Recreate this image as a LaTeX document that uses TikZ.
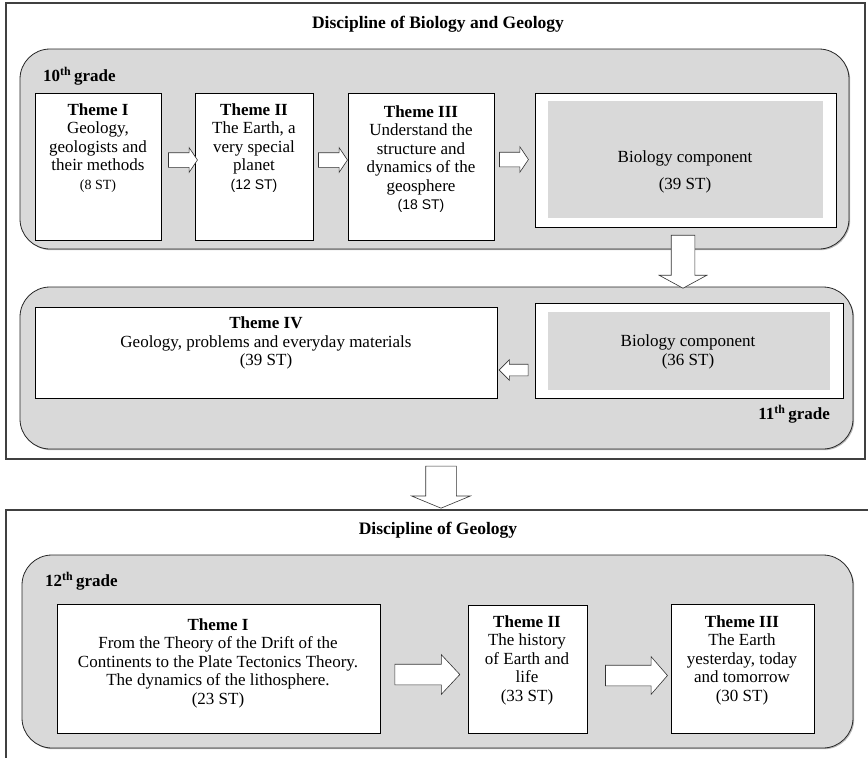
\documentclass[tikz,border=0pt]{standalone}
\usepackage{fontspec}
\setmainfont{Liberation Serif}
\setsansfont{Liberation Sans}
\usetikzlibrary{fit,calc,shapes.arrows,shadows}

\newcommand{\stsmall}{\fontsize{14}{16}\selectfont}
\newcommand{\gradelabel}[1]{\textbf{#1\textsuperscript{th}\,grade}}

\begin{document}
\begin{tikzpicture}[x=1pt, y=-1pt,
  discbox/.style={draw=black!75, line width=1.4pt, fill=white, inner sep=0pt},
  gradebox/.style={draw=black!85, line width=0.8pt, fill=black!15, rounded corners=30pt, inner sep=0pt,
    drop shadow={shadow xshift=1.2pt, shadow yshift=-1.2pt, fill=black!45, opacity=0.6}},
  themebox/.style={draw=black, line width=0.7pt, fill=white, inner sep=0pt},
  biobox/.style={fill=black!15, inner sep=0pt},
  themetext/.style={align=center, inner sep=0pt, font=\fontsize{17}{18.5}\selectfont},
  titletext/.style={font=\bfseries\fontsize{17.5}{20}\selectfont, inner sep=0pt},
  flowarrow/.style={single arrow, draw=black!80, line width=0.6pt, fill=white, inner xsep=0pt,
    single arrow head indent=0pt},
  downarrow/.style={flowarrow, inner ysep=0pt, shape border rotate=270}]

\path[use as bounding box, clip] (0,0) rectangle (868,758);

% discipline of biology and geology
\node[discbox, fit={(6,3) (865,459)}] (disc1) {};
\node[titletext] (title1) at (438,24) {Discipline of Biology and Geology};

\node[gradebox, fit={(20,49) (849,249)}] (g10) {};
\node[themetext, anchor=west] (g10lab) at (43,76) {\gradelabel{10}};

\node[themebox, fit={(35,93) (161,240)}] (t1) {};
\node[themebox, fit={(195,93) (313,240)}] (t2) {};
\node[themebox, fit={(348,93) (494,240)}] (t3) {};
\node[themebox, fit={(535,93) (836,227)}] (bio1) {};
\node[biobox, fit={(548,101) (823,218)}] (bio1in) {};

\node[themetext] (t1txt) at (98,148) {\textbf{Theme I}\\Geology,\\geologists and\\their methods\\{\stsmall (8 ST)}};
\node[themetext] (t2txt) at (254,148) {\textbf{Theme II}\\The Earth, a\\very special\\planet\\{\sffamily\stsmall (12 ST)}};
\node[themetext] (t3txt) at (421,159) {\textbf{Theme III}\\Understand the\\structure and\\dynamics of the\\geosphere\\{\sffamily\stsmall (18 ST)}};
\node[themetext] (bio1txt) at (685,172) {Biology component\\[9pt](39 ST)};

\node[flowarrow, minimum height=29pt, inner ysep=7pt, single arrow head extend=5pt, single arrow tip angle=112] (a1) at (180.5,160) {};
\node[flowarrow, minimum height=29pt, inner ysep=7pt, single arrow head extend=5pt, single arrow tip angle=112] (a2) at (330.5,160) {};
\node[flowarrow, minimum height=29pt, inner ysep=7pt, single arrow head extend=5.5pt, single arrow tip angle=112] (a3) at (511.5,159.5) {};

\node[gradebox, fit={(20,287) (853,449)}] (g11) {};
\node[downarrow, minimum height=53pt, inner xsep=11.5pt, single arrow head extend=12pt, single arrow tip angle=123] (a4) at (683,258.5) {};

\node[themebox, fit={(35,307) (497,398)}] (t4) {};
\node[themebox, fit={(535,303) (843,398)}] (bio2) {};
\node[biobox, fit={(548,312) (830,390)}] (bio2in) {};

\node[themetext] (t4txt) at (266,343) {\textbf{Theme IV}\\Geology, problems and everyday materials\\(39 ST)};
\node[themetext] (bio2txt) at (688,352) {Biology component\\(36 ST)};
\node[themetext, anchor=east] (g11lab) at (830,414) {\gradelabel{11}};

\node[flowarrow, minimum height=29pt, inner ysep=5.5pt, single arrow head extend=4.5pt, single arrow tip angle=90, shape border rotate=180] (a5) at (516.5,370) {};

% between the disciplines
\node[downarrow, minimum height=42pt, inner xsep=15pt, single arrow head extend=14pt, single arrow tip angle=135] (a6) at (441,484) {};

% discipline of geology
\node[discbox, fit={(6,510) (880,780)}] (disc2) {};
\node[titletext] (title2) at (438,530) {Discipline of Geology};

\node[gradebox, fit={(22,555) (853,748)}] (g12) {};
\node[themetext, anchor=west] (g12lab) at (45,581) {\gradelabel{12}};

\node[themebox, fit={(57,604) (380,733)}] (u1) {};
\node[themebox, fit={(468,605) (587,733)}] (u2) {};
\node[themebox, fit={(671,604) (814,733)}] (u3) {};

\node[themetext] (u1txt) at (218,663) {\textbf{Theme I}\\From the Theory of the Drift of the\\Continents to the Plate Tectonics Theory.\\The dynamics of the lithosphere.\\(23 ST)};
\node[themetext] (u2txt) at (527,660) {\textbf{Theme II}\\The history\\of Earth and\\life\\(33 ST)};
\node[themetext] (u3txt) at (742,660) {\textbf{Theme III}\\The Earth\\yesterday, today\\and tomorrow\\(30 ST)};

\node[flowarrow, minimum height=65pt, inner ysep=10pt, single arrow head extend=9.5pt, single arrow tip angle=94] (a7) at (422.5,674.5) {};
\node[flowarrow, minimum height=62pt, inner ysep=10pt, single arrow head extend=8.5pt, single arrow tip angle=98] (a8) at (632,675.5) {};

\end{tikzpicture}
\end{document}
